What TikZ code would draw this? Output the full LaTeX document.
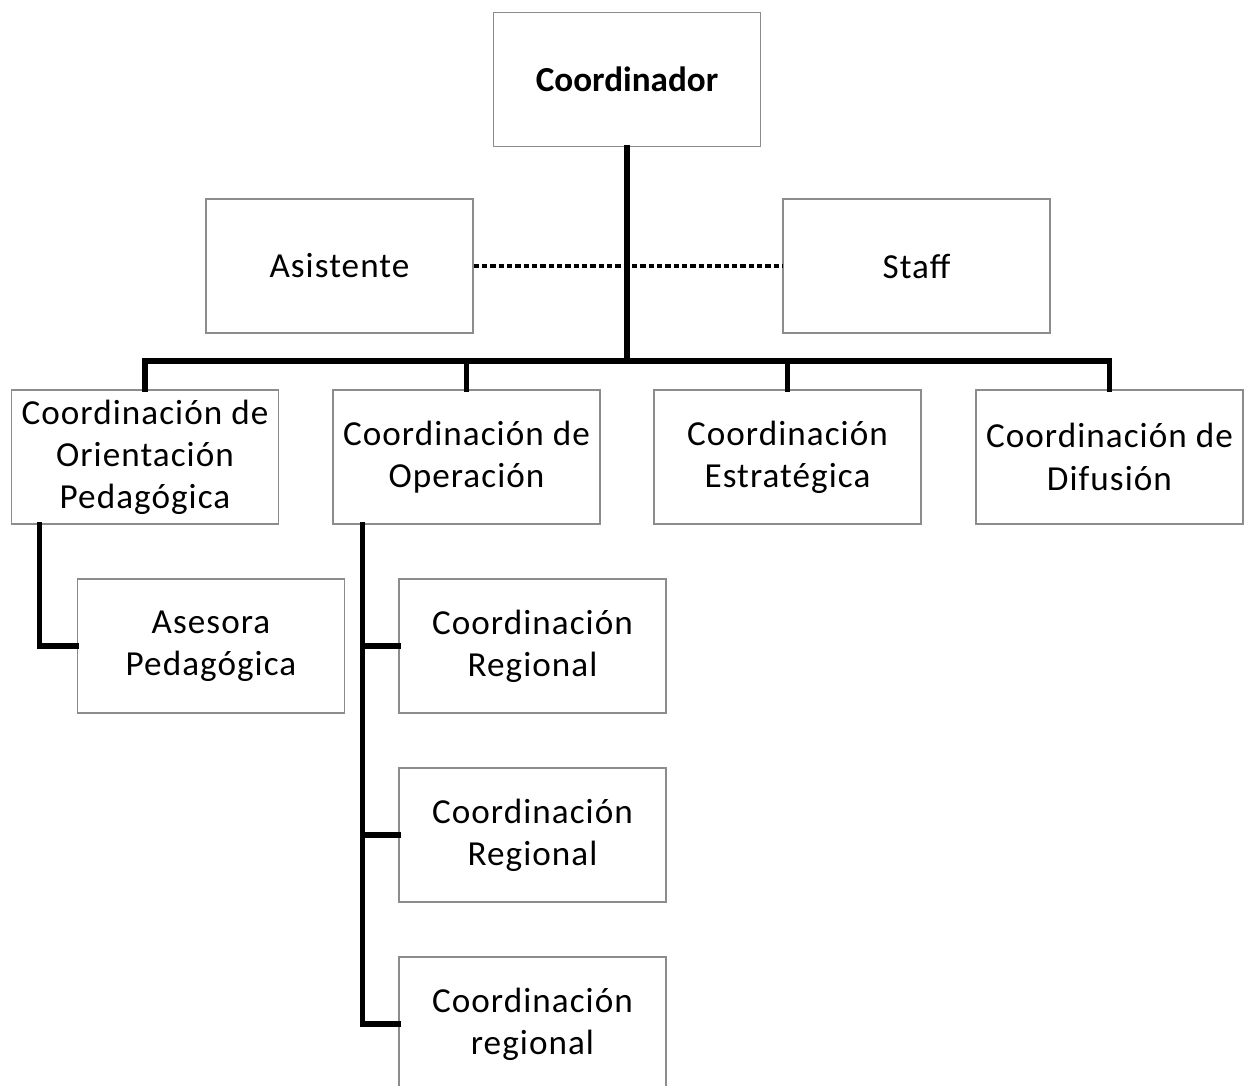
\documentclass[tikz,border=0pt]{standalone}
\usepackage{fontspec}
\setmainfont{Carlito}
\usepackage{tikz}

\tikzset{
    unitbox/.style={draw=black!45, line width=1.2pt, fill=white, align=center,
        minimum width=8.01cm, minimum height=4.02cm, inner sep=0pt,
        font=\fontsize{30}{36}\addfontfeatures{LetterSpace=3}},
    headbox/.style={unitbox, font=\fontsize{30}{36}\selectfont\bfseries},
    tree/.style={black, line width=4.3pt, line cap=rect},
    staffline/.style={black, line width=2.6pt, dash pattern=on 0.16cm off 0.09cm}
}

\begin{document}
\begin{tikzpicture}[x=0.03cm,y=-0.03cm]
    \useasboundingbox (0,0) rectangle (1247,1086);

    % Top
    \node[headbox] (coord) at (627,79.5) {Coordinador};
    \node[unitbox] (asi) at (339.5,266) {Asistente};
    \node[unitbox] (sta) at (916.5,266) {Staff};

    % Second level
    \node[unitbox] (cop) at (145,457) {Coordinación de\\Orientación\\Pedagógica};
    \node[unitbox] (ope) at (466.5,457) {Coordinación de\\Operación};
    \node[unitbox] (est) at (787.5,457) {Coordinación\\Estratégica};
    \node[unitbox] (dif) at (1109.5,457) {Coordinación de\\Difusión};

    % Third level
    \node[unitbox] (ase) at (211,646) {Asesora\\Pedagógica};
    \node[unitbox] (cr1) at (532.5,646) {Coordinación\\Regional};
    \node[unitbox] (cr2) at (532.5,835) {Coordinación\\Regional};
    \node[unitbox] (cr3) at (532.5,1024) {Coordinación\\regional};

    % Bus
    \coordinate (bus) at (627,361);
    \coordinate (optrunk) at ([xshift=0.9cm]ope.south west);
    \coordinate (coptrunk) at ([xshift=0.87cm]cop.south west);

    % Connectors
    \draw[staffline] (asi.east) -- (sta.west);
    \draw[tree] (coord.south) -- (bus);
    \foreach \n in {cop,ope,est,dif} {
        \draw[tree] (\n.north) |- (bus);
    }
    \draw[tree] (coptrunk) |- (ase.west);
    \draw[tree] (optrunk) |- (cr3.west);
    \foreach \n in {cr1,cr2} {
        \draw[tree] (optrunk |- \n.west) -- (\n.west);
    }

\end{tikzpicture}
\end{document}
